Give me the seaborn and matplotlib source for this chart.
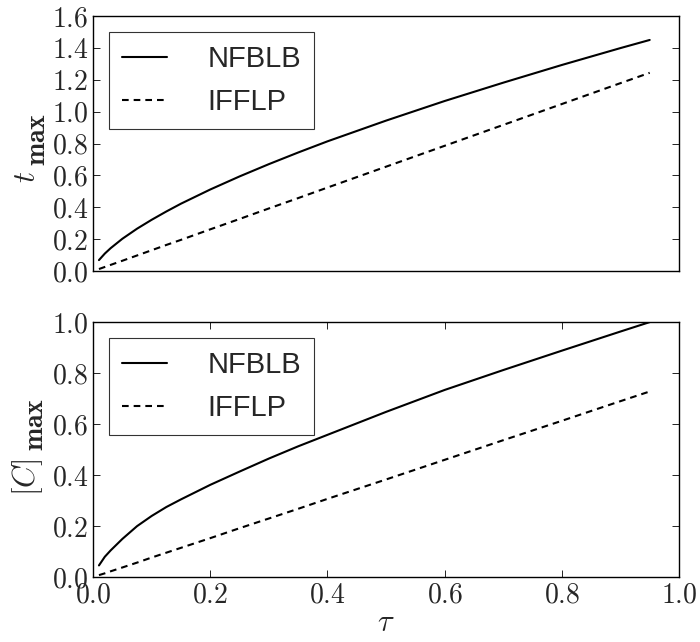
import matplotlib
matplotlib.use("Agg")
import matplotlib.pyplot as plt
import seaborn as sns
import pandas as pd
from matplotlib.ticker import FuncFormatter, MultipleLocator

tau = [0.01, 0.02, 0.03, 0.05, 0.075, 0.1, 0.125, 0.15, 0.2, 0.25, 0.3, 0.35,
       0.4, 0.5, 0.6, 0.7, 0.8, 0.9, 0.95]

tmax_nfblb = [0.069, 0.110, 0.144, 0.203, 0.266, 0.322, 0.374, 0.423, 0.512, 0.594,
              0.671, 0.744, 0.814, 0.944, 1.067, 1.182, 1.293, 1.399, 1.450]
tmax_ifflp = [0.013, 0.026, 0.039, 0.065, 0.098, 0.131, 0.164, 0.196, 0.262, 0.327,
              0.393, 0.458, 0.524, 0.655, 0.786, 0.917, 1.048, 1.179, 1.244]

cmax_nfblb = [0.046, 0.080, 0.105, 0.150, 0.200, 0.240, 0.275, 0.305, 0.362, 0.414,
              0.465, 0.513, 0.558, 0.648, 0.734, 0.812, 0.888, 0.963, 1.000]
cmax_ifflp = [0.008, 0.015, 0.023, 0.038, 0.057, 0.077, 0.096, 0.115, 0.153, 0.192,
              0.230, 0.268, 0.307, 0.383, 0.460, 0.537, 0.613, 0.690, 0.728]

labels = ["NFBLB", "IFFLP"]


def make_df(a, b):
    return pd.DataFrame({
        "tau": tau * 2,
        "value": a + b,
        "model": [labels[0]] * len(tau) + [labels[1]] * len(tau),
    })


sns.set_style("white")
plt.rcParams["mathtext.fontset"] = "cm"
plt.rcParams["font.family"] = ["Liberation Sans", "DejaVu Sans"]

fig, axes = plt.subplots(2, 1, figsize=(7, 6.42), dpi=100)
fig.subplots_adjust(left=0.133, right=0.97, top=0.975, bottom=0.101, hspace=0.2)

# (axis, data, main symbol, ylim top, symbol position, "max" position)
panels = [
    (axes[0], make_df(tmax_nfblb, tmax_ifflp), r"$t$", 1.6, (-0.112, 0.37), (-0.094, 0.515)),
    (axes[1], make_df(cmax_nfblb, cmax_ifflp), r"$[C]$", 1.0, (-0.112, 0.39), (-0.097, 0.60)),
]

fmt = FuncFormatter(lambda v, p: f"${v:.1f}$")

for ax, df, sym, ytop, sym_pos, max_pos in panels:
    sns.lineplot(data=df, x="tau", y="value", style="model", style_order=labels,
                 dashes={labels[0]: "", labels[1]: (3.2, 2.4)}, color="black",
                 linewidth=1.5, ax=ax)
    ax.set_xlim(0, 1.0)
    ax.set_ylim(0, ytop)
    ax.xaxis.set_major_locator(MultipleLocator(0.2))
    ax.yaxis.set_major_locator(MultipleLocator(0.2))
    ax.xaxis.set_major_formatter(fmt)
    ax.yaxis.set_major_formatter(fmt)
    ax.tick_params(direction="in", length=5, width=0.6, labelsize=20,
                   top=True, right=True, bottom=True, left=True, color="black")
    for s in ax.spines.values():
        s.set_color("black")
        s.set_linewidth(1.0)
    ax.set_ylabel(sym, fontsize=22)
    ax.yaxis.set_label_coords(*sym_pos)
    ax.yaxis.label.set_verticalalignment("center")
    ax.text(max_pos[0], max_pos[1], r"$\mathbf{max}$", transform=ax.transAxes,
            rotation=90, ha="center", va="center", fontsize=20)
    ax.set_xlabel("")
    leg = ax.legend(loc="upper left", fontsize=21, frameon=True, fancybox=False,
                    handlelength=1.55, borderpad=0.45, labelspacing=0.5,
                    handletextpad=1.37, borderaxespad=0.55)
    leg.get_frame().set_edgecolor("black")
    leg.get_frame().set_linewidth(0.8)
    for h in leg.get_lines():
        h.set_linewidth(1.5)

axes[0].tick_params(axis="x", which="both", bottom=False, top=False, labelbottom=False)
axes[1].set_xlabel(r"$\tau$", fontsize=22, labelpad=0)

fig.savefig("out.png", dpi=100)
